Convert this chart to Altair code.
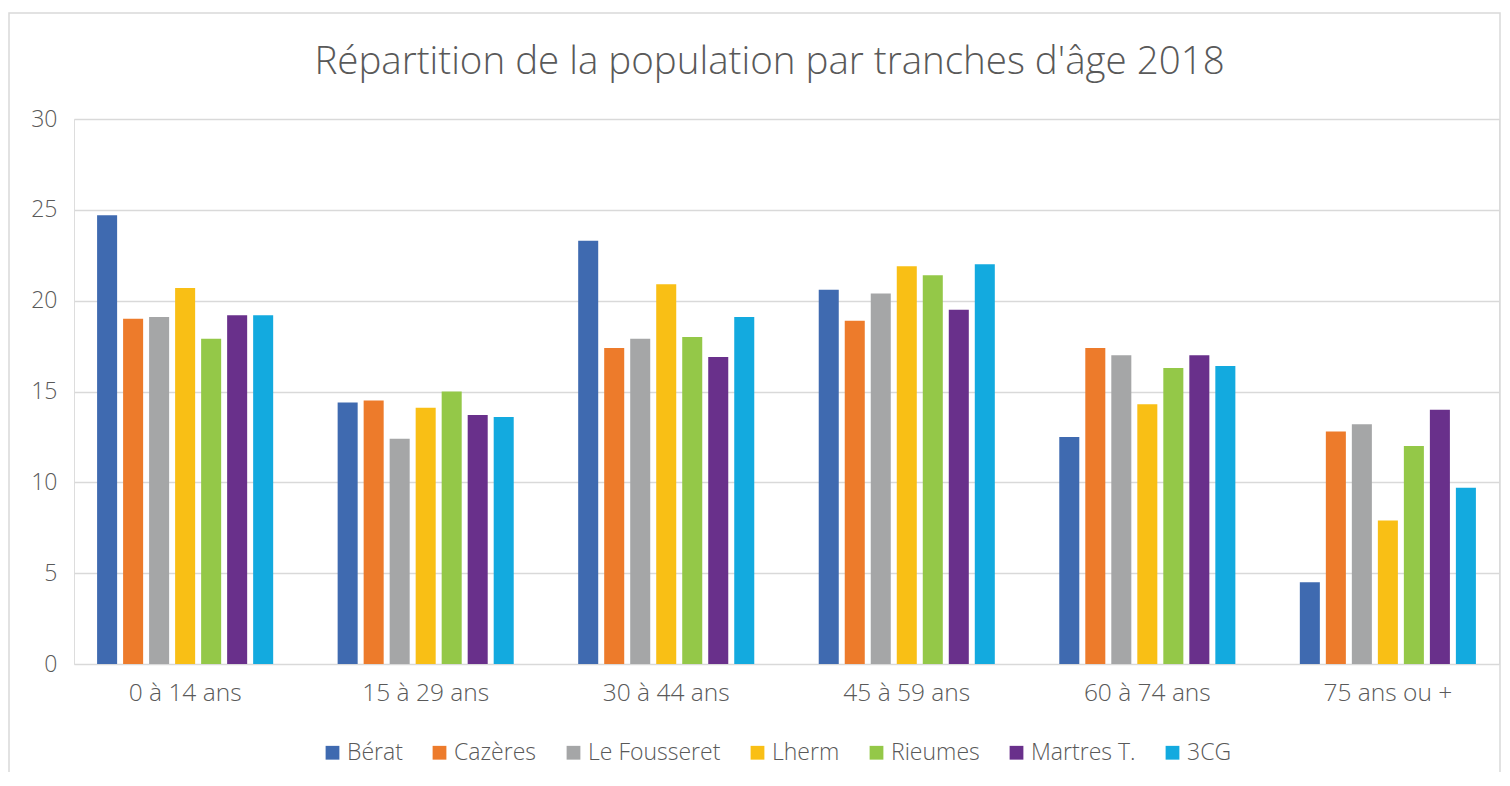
import altair as alt
import pandas as pd

categories = ["0 à 14 ans", "15 à 29 ans", "30 à 44 ans", "45 à 59 ans", "60 à 74 ans", "75 ans ou +"]
series = ["Bérat", "Cazères", "Le Fousseret", "Lherm", "Rieumes", "Martres T.", "3CG"]
colors = ["#3F6AB0", "#ED7B2B", "#A5A6A7", "#F9BF15", "#94C848", "#69308B", "#13AADF"]

berat = [24.7, 14.4, 23.3, 20.6, 12.5, 4.5]
cazeres = [19.0, 14.5, 17.4, 18.9, 17.4, 12.8]
fousseret = [19.1, 12.4, 17.9, 20.4, 17.0, 13.2]
lherm = [20.7, 14.1, 20.9, 21.9, 14.3, 7.9]
rieumes = [17.9, 15.0, 18.0, 21.4, 16.3, 12.0]
martres = [19.2, 13.7, 16.9, 19.5, 17.0, 14.0]
cg3 = [19.2, 13.6, 19.1, 22.0, 16.4, 9.7]

y_ticks = [0, 5, 10, 15, 20, 25, 30]

rows = []
for name, vals in zip(series, [berat, cazeres, fousseret, lherm, rieumes, martres, cg3]):
    for cat, v in zip(categories, vals):
        rows.append({"tranche": cat, "commune": name, "valeur": v})
df = pd.DataFrame(rows)

FONT = "Open Sans"
TXT = "#595959"
GRID = "#D9D9D9"
W, H = 1425, 545

bars = alt.Chart(df).mark_bar().encode(
    x=alt.X("tranche:N", sort=categories, title=None,
            scale=alt.Scale(paddingInner=0.268, paddingOuter=0.096),
            axis=alt.Axis(labelAngle=0, labelFontSize=24.5, labelColor=TXT, labelFont=FONT,
                          labelFontWeight=300,
                          ticks=False, domain=False, labelPadding=17)),
    xOffset=alt.XOffset("commune:N", sort=series,
                        scale=alt.Scale(paddingInner=0.23, paddingOuter=0)),
    y=alt.Y("valeur:Q", title=None,
            scale=alt.Scale(domain=[0, 30], nice=False),
            axis=alt.Axis(values=y_ticks, labelFontSize=23, labelColor=TXT, labelFont=FONT,
                          labelFontWeight=300,
                          ticks=False, domain=False, labelPadding=17,
                          gridColor=GRID, gridWidth=1.6)),
    color=alt.Color("commune:N", sort=series,
                    scale=alt.Scale(domain=series, range=colors),
                    legend=alt.Legend(title=None, orient="none", direction="horizontal",
                                      legendX=247, legendY=622,
                                      labelFontSize=23, labelColor=TXT, labelFont=FONT,
                                      labelFontWeight=300,
                                      symbolType="square", symbolSize=190, symbolStrokeWidth=0,
                                      labelOffset=3, columnPadding=25)),
)

frame = alt.Chart(pd.DataFrame({"f": [0]})).mark_rect(
    filled=False, stroke=GRID, strokeWidth=1.5
).encode(
    x=alt.value(-65), x2=alt.value(W + 1),
    y=alt.value(-106), y2=alt.value(H + 300),
)

chart = alt.layer(frame, bars).properties(
    width=W, height=H,
    padding={"left": 66, "top": 111, "right": 2, "bottom": 108},
    autosize=alt.AutoSizeParams(type="none"),
    title=alt.TitleParams(
        "Répartition de la population par tranches d'âge 2018",
        font=FONT, fontSize=38.5, fontWeight=300, color=TXT,
        anchor="middle", frame="group", baseline="alphabetic", offset=-100, dx=-17,
    ),
).configure_view(stroke="transparent", strokeWidth=0).configure(background="white")

chart.save("out.html", embed_options={"renderer": "svg", "actions": False})
